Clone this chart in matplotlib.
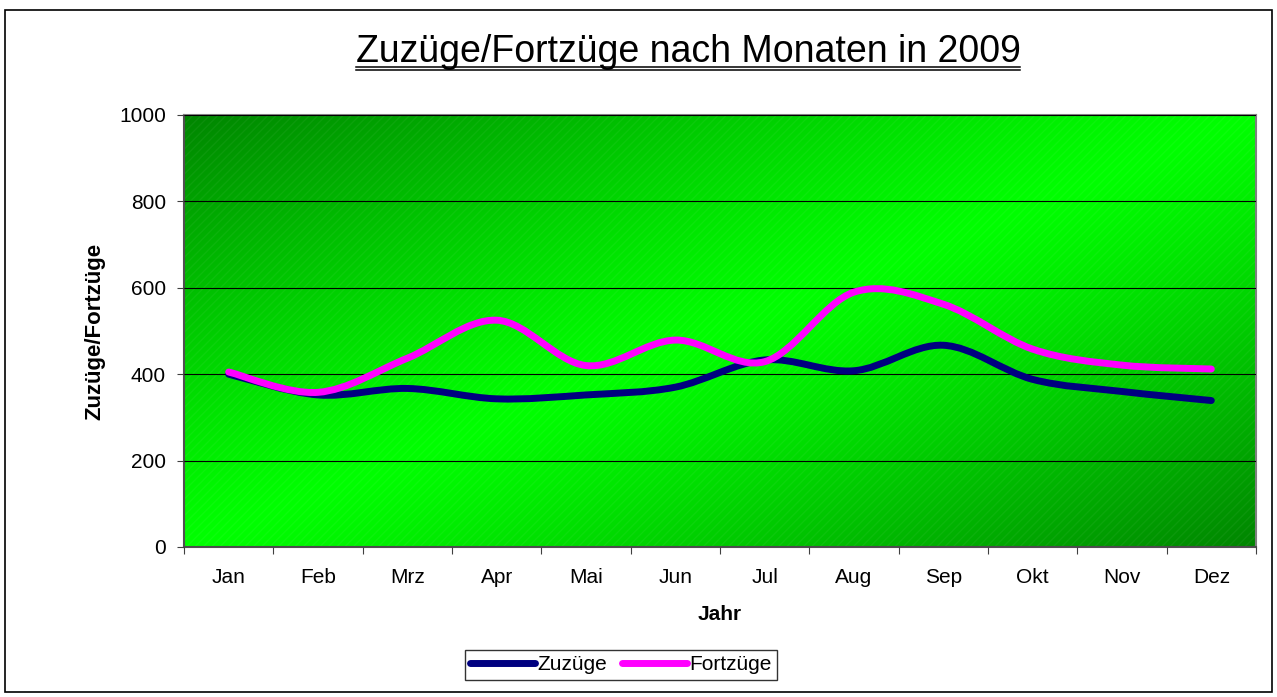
#Zuzüge/Fortzüge nach Monaten in 2009 - excel style line chart
import numpy as np
import matplotlib.pyplot as plt
from matplotlib.path import Path
from matplotlib.patches import PathPatch, Rectangle
from matplotlib.lines import Line2D

plt.rcParams['font.family'] = ['Liberation Sans', 'DejaVu Sans']

monate = ['Jan', 'Feb', 'Mrz', 'Apr', 'Mai', 'Jun', 'Jul', 'Aug', 'Sep', 'Okt', 'Nov', 'Dez']
zuzuege = [400, 352, 367, 343, 352, 370, 433, 408, 467, 388, 360, 339]
fortzuege = [405, 358, 437, 525, 420, 479, 429, 590, 562, 458, 421, 412]

W, H = 1277, 697
FS = 15

def smooth_path(xs, ys):
    #excel-like smoothed line as cubic bezier segments
    p = np.column_stack([xs, ys]).astype(float)
    ext = np.vstack([p[0], p, p[-1]])
    verts = [p[0]]
    codes = [Path.MOVETO]
    for i in range(len(p) - 1):
        p0, p1, p2, p3 = ext[i], ext[i + 1], ext[i + 2], ext[i + 3]
        c1 = p1 + (p2 - p0) / 6.0
        c2 = p2 - (p3 - p1) / 6.0
        verts += [c1, c2, p2]
        codes += [Path.CURVE4] * 3
    return Path(verts, codes)

fig = plt.figure(figsize=(W / 100, H / 100), dpi=100)
ax = fig.add_axes([184 / W, 1 - 547 / H, (1256 - 184) / W, (547 - 115) / H])

#diagonal green gradient of the plot area
n = 300
gx, gy = np.meshgrid(np.linspace(0, 1, n), np.linspace(0, 1, n))
t = np.abs(gx + gy - 1.0)
dark = np.array([0.0, 0.52, 0.0])
bright = np.array([0.0, 1.0, 0.0])
img = bright[None, None, :] + (dark - bright)[None, None, :] * t[..., None] ** 1.2
ax.imshow(img, extent=[0, 1, 0, 1], transform=ax.transAxes, aspect='auto',
          interpolation='bilinear', zorder=0)
ax.add_patch(Rectangle((0, 0), 1, 1, transform=ax.transAxes, facecolor='none',
                       edgecolor=(1, 1, 1, 0.05), hatch='////', linewidth=0, zorder=0.5))

x = np.arange(1, 13)
ax.set_xlim(0.5, 12.5)
ax.set_ylim(0, 1000)

ax.set_yticks(range(0, 1001, 200))
ax.grid(axis='y', color='black', linewidth=0.8, zorder=1)
ax.set_axisbelow(False)

for vals, col in [(zuzuege, '#000080'), (fortzuege, '#ff00ff')]:
    ax.add_patch(PathPatch(smooth_path(x, vals), facecolor='none', edgecolor=col,
                           linewidth=5, capstyle='round', joinstyle='round', zorder=3))

ax.set_xticks(np.arange(0.5, 12.6, 1.0))
ax.set_xticklabels([])
ax.set_xticks(x, minor=True)
ax.set_xticklabels(monate, minor=True)
ax.tick_params(axis='x', which='major', direction='out', length=5, color='#404040')
ax.tick_params(axis='x', which='minor', length=0, pad=15, labelsize=FS)
ax.tick_params(axis='y', direction='out', length=5, color='#404040', pad=8, labelsize=FS)

for s in ['top', 'right']:
    ax.spines[s].set_color('#808080')
    ax.spines[s].set_linewidth(1.5)
for s in ['left', 'bottom']:
    ax.spines[s].set_color('#505050')
    ax.spines[s].set_linewidth(1.5)

fig.text(95 / W, 1 - 331 / H, 'Zuzüge/Fortzüge', rotation=90, ha='center', va='center',
         fontsize=16, fontweight='bold')
fig.text(720 / W, 1 - 615 / H, 'Jahr', ha='center', va='center', fontsize=FS, fontweight='bold')

title = fig.text(688 / W, 1 - 62 / H, 'Zuzüge/Fortzüge nach Monaten in 2009', ha='center',
                 va='baseline', fontsize=27)
fig.canvas.draw()
bb = title.get_window_extent()
for yy in [66.5, 70]:
    fig.add_artist(Line2D([bb.x0 / W, bb.x1 / W], [1 - yy / H, 1 - yy / H],
                          transform=fig.transFigure, color='black', linewidth=1.1))

handles = [Line2D([], [], color='#000080', linewidth=5, solid_capstyle='round'),
           Line2D([], [], color='#ff00ff', linewidth=5, solid_capstyle='round')]
leg = fig.legend(handles, ['Zuzüge', 'Fortzüge'], loc='center', bbox_to_anchor=(621 / W, 1 - 665 / H),
                 ncol=2, fontsize=FS, frameon=True, fancybox=False, handlelength=3.1,
                 handletextpad=0.15, columnspacing=0.7, borderpad=0.25, borderaxespad=0)
leg.get_frame().set_edgecolor('black')
leg.get_frame().set_linewidth(1.0)

#outer chart border
fig.add_artist(Rectangle((5 / W, 1 - 692 / H), 1267 / W, 682 / H, transform=fig.transFigure,
                         facecolor='none', edgecolor='black', linewidth=1.2))

plt.savefig('out.png', dpi=100)
